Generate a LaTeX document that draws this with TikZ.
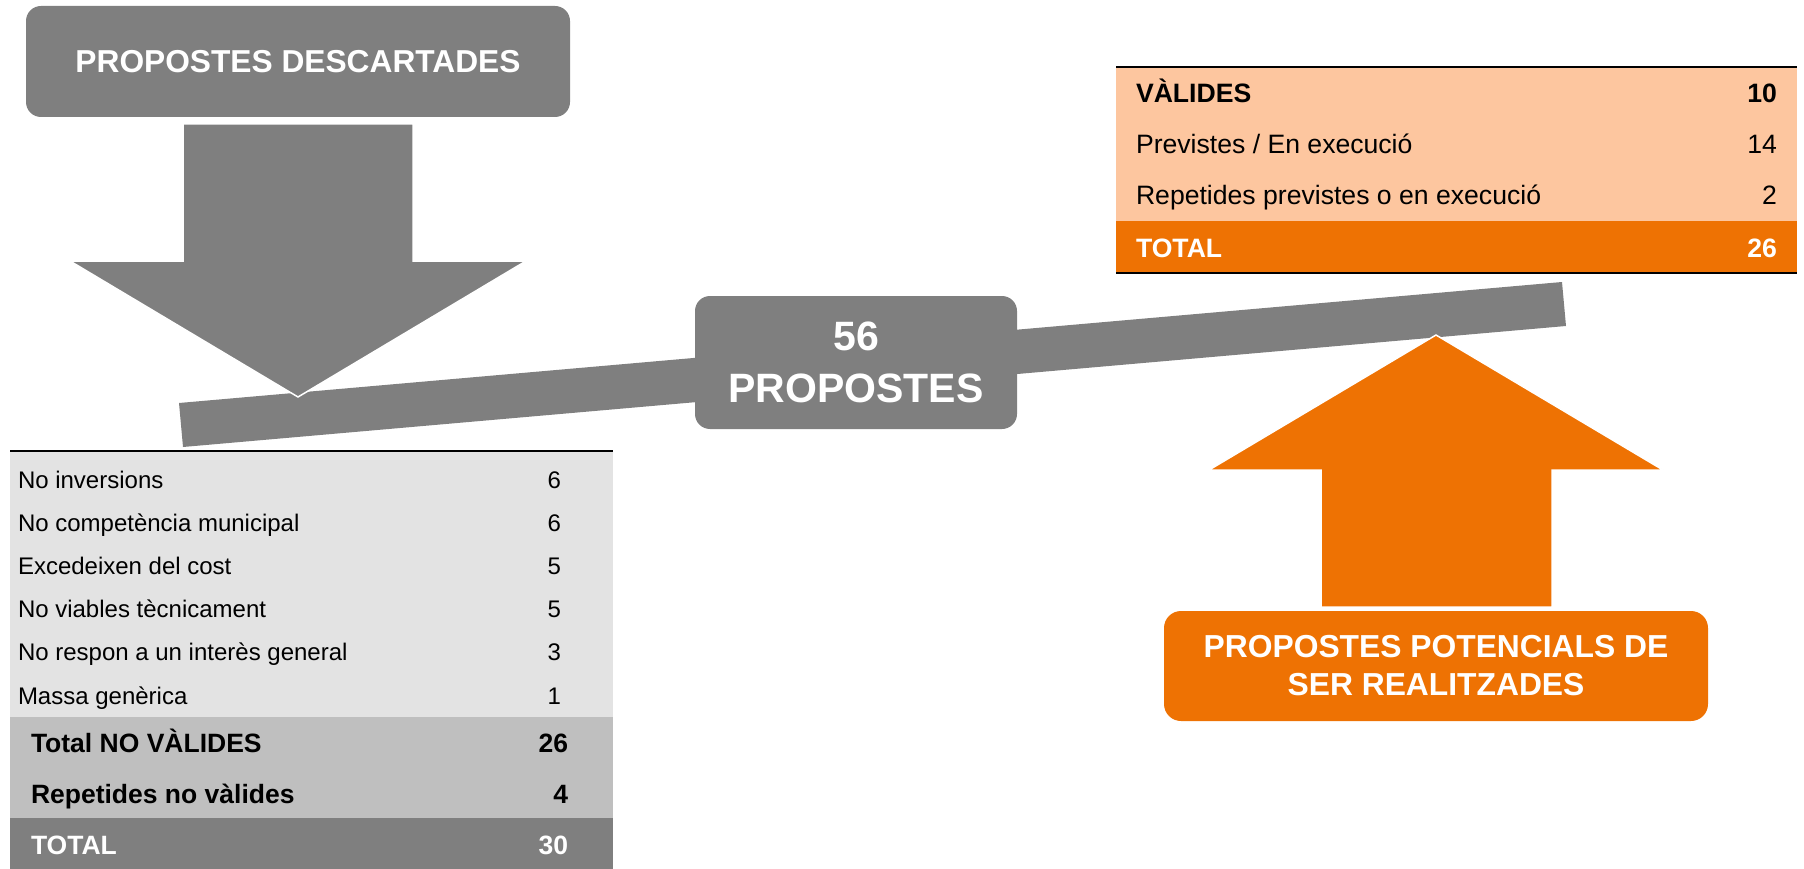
\documentclass[tikz,border=0pt]{standalone}
\usepackage{fontspec}
\setmainfont{Liberation Sans}
\definecolor{grayA}{HTML}{7F7F7F}
\definecolor{lightrow}{HTML}{E3E3E3}
\definecolor{midrow}{HTML}{BFBFBF}
\definecolor{orangeA}{HTML}{EE7203}
\definecolor{peach}{HTML}{FDC69F}
\begin{document}
\begin{tikzpicture}[x=1pt,y=-1pt,
  every node/.style={inner sep=0pt,outer sep=0pt},
  rbox/.style={rounded corners=15pt,text=white,align=center},
  ltxt/.style={anchor=base west,font=\fontsize{24}{28}\selectfont},
  lnum/.style={anchor=base east,font=\fontsize{24}{28}\selectfont},
  lbold/.style={anchor=base west,font=\fontsize{26.5}{30}\selectfont\bfseries},
  lboldnum/.style={anchor=base east,font=\fontsize{26.5}{30}\selectfont\bfseries},
  rtxt/.style={anchor=base west,font=\fontsize{26.6}{30}\selectfont},
  rnum/.style={anchor=base east,font=\fontsize{26.6}{30}\selectfont},
  rbold/.style={anchor=base west,font=\fontsize{26.6}{30}\selectfont\bfseries},
  rboldnum/.style={anchor=base east,font=\fontsize{26.6}{30}\selectfont\bfseries},
  arrowshape/.style={draw=white,line width=1.5pt,line join=miter}
]
\useasboundingbox (0,0) rectangle (1804,869);

% ---------- left table ----------
\fill[lightrow] (10,451) rectangle (613,717);
\fill[midrow] (10,717) rectangle (613,818);
\fill[grayA] (10,818) rectangle (613,869);
\draw[black,line width=2.5pt] (10,451) -- (613,451);

\node[ltxt] (l1) at (18,488) {No inversions};
\node[lnum] (n1) at (561,488) {6};
\node[ltxt] (l2) at (18,531.2) {No competència municipal};
\node[lnum] (n2) at (561,531.2) {6};
\node[ltxt] (l3) at (18,574.4) {Excedeixen del cost};
\node[lnum] (n3) at (561,574.4) {5};
\node[ltxt] (l4) at (18,617.6) {No viables tècnicament};
\node[lnum] (n4) at (561,617.6) {5};
\node[ltxt] (l5) at (18,660.8) {No respon a un interès general};
\node[lnum] (n5) at (561,660.8) {3};
\node[ltxt] (l6) at (18,704) {Massa genèrica};
\node[lnum] (n6) at (561,704) {1};
\node[lbold] (l7) at (31,752) {Total NO VÀLIDES};
\node[lboldnum] (n7) at (568,752) {26};
\node[lbold] (l8) at (31,803) {Repetides no vàlides};
\node[lboldnum] (n8) at (568,803) {4};
\node[lbold,text=white] (l9) at (31,854) {TOTAL};
\node[lboldnum,text=white] (n9) at (568,854) {30};

% ---------- right table ----------
\fill[peach] (1116,67) rectangle (1797,221);
\fill[orangeA] (1116,221) rectangle (1797,273);
\draw[black,line width=2.7pt] (1116,67) -- (1797,67);
\draw[black,line width=2.7pt] (1116,273) -- (1797,273);

\node[rbold] (r1) at (1136,103) {VÀLIDES};
\node[rboldnum] (m1) at (1777,103) {10};
\node[rtxt] (r2) at (1136,154) {Previstes / En execució};
\node[rnum] (m2) at (1777,154) {14};
\node[rtxt] (r3) at (1136,205) {Repetides previstes o en execució};
\node[rnum] (m3) at (1777,205) {2};
\node[rbold,text=white] (r4) at (1136,257) {TOTAL};
\node[rboldnum,text=white] (m4) at (1777,257) {26};

% ---------- beam ----------
\coordinate (bTL) at (179,403);
\coordinate (bTR) at (1562,282);
\coordinate (bBR) at (1566,326);
\coordinate (bBL) at (183,447);
\fill[grayA] (bTL) -- (bTR) -- (bBR) -- (bBL) -- cycle;

% ---------- top-left box and down arrow ----------
\node[rbox,fill=grayA,minimum width=544pt,minimum height=111pt,
      font=\fontsize{31.7}{38}\selectfont\bfseries] (desc) at (298,61.5) {PROPOSTES DESCARTADES};
\filldraw[grayA,arrowshape] (183,124) -- (413,124) -- (413,261) -- (526,261) -- (298,397)
   -- (70,261) -- (183,261) -- cycle;

% ---------- up arrow and bottom-right box ----------
\filldraw[orangeA,arrowshape] (1436,335) -- (1663,470) -- (1552,470) -- (1552,607)
   -- (1321,607) -- (1321,470) -- (1209,470) -- cycle;
\node[rbox,fill=orangeA,rounded corners=17pt,minimum width=544pt,minimum height=110pt,
      font=\fontsize{31.8}{38}\selectfont\bfseries] (pot) at (1436,666)
      {PROPOSTES POTENCIALS DE\\SER REALITZADES};

% ---------- center box ----------
\node[rbox,fill=grayA,minimum width=322pt,minimum height=133pt,
      font=\fontsize{41}{52}\selectfont\bfseries] (tot) at (856,362.5) {56\\PROPOSTES};
\end{tikzpicture}
\end{document}
